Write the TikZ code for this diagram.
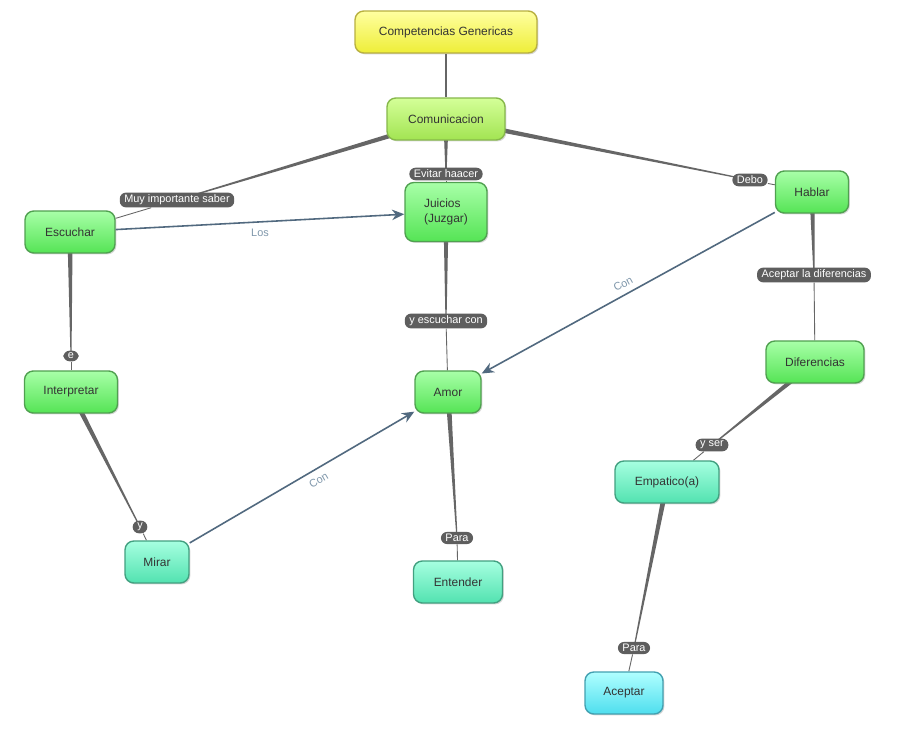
\documentclass[tikz,border=0pt]{standalone}
\usepackage{fontspec}
\setmainfont{Liberation Sans}
\usetikzlibrary{positioning, calc}
\usetikzlibrary{arrows.meta, backgrounds, shadows}
\definecolor{linkgray}{HTML}{666666}
\definecolor{labelgray}{HTML}{5E5E5E}
\definecolor{arrowblue}{HTML}{51697F}
\definecolor{arrowtext}{HTML}{7F97AB}
\definecolor{yelTop}{HTML}{FFFFA0}\definecolor{yelBot}{HTML}{EEEE38}\definecolor{yelLine}{HTML}{B8B040}
\definecolor{limTop}{HTML}{D4FF98}\definecolor{limBot}{HTML}{A2E452}\definecolor{limLine}{HTML}{86B84A}
\definecolor{grnTop}{HTML}{A8FFA8}\definecolor{grnBot}{HTML}{55E455}\definecolor{grnLine}{HTML}{50A050}
\definecolor{tealTop}{HTML}{A6FFE0}\definecolor{tealBot}{HTML}{52E2B0}\definecolor{tealLine}{HTML}{42A080}
\definecolor{cyTop}{HTML}{B0FFFF}\definecolor{cyBot}{HTML}{4EDEEE}\definecolor{cyLine}{HTML}{42A0B0}

% tapered link: thick at the concept, thin at the label
\newcommand{\fatlink}[2]{%
  \fill[linkgray] let \p1=($(#2)-(#1)$), \n1={atan2(\y1,\x1)} in
    ($(#1)+(\n1+90:1.5pt)$) -- ($(#2)+(\n1+90:0.3pt)$) --
    ($(#2)+(\n1-90:0.3pt)$) -- ($(#1)+(\n1-90:1.5pt)$) -- cycle;}

\begin{document}
\begin{tikzpicture}[
  x=0.02cm, y=-0.02cm,
  concept/.style={rounded corners=5pt, line width=0.8pt, minimum height=0.84cm,
    font=\fontsize{6.8}{8.2}\selectfont, text=black!80,
    drop shadow={shadow xshift=0.8pt, shadow yshift=-0.8pt, opacity=.3}},
  yellowc/.style={concept, draw=yelLine, top color=yelTop, bottom color=yelBot},
  limec/.style={concept, draw=limLine, top color=limTop, bottom color=limBot},
  greenc/.style={concept, draw=grnLine, top color=grnTop, bottom color=grnBot},
  tealc/.style={concept, draw=tealLine, top color=tealTop, bottom color=tealBot},
  cyanc/.style={concept, draw=cyLine, top color=cyTop, bottom color=cyBot},
  linklabel/.style={fill=labelgray, text=white, rounded corners=3.5pt,
    inner xsep=2.6pt, inner ysep=1.3pt, font=\fontsize{6.2}{7.2}\selectfont},
  thinlink/.style={draw=linkgray, line width=0.5pt},
  arrowlink/.style={draw=arrowblue, line width=0.9pt, -{Stealth[length=7pt, width=6pt]}},
  arrowlabel/.style={text=arrowtext, font=\fontsize{6.2}{7.2}\selectfont}
]
  % conceptos
  \node[yellowc, minimum width=3.64cm] (compet) at (446,32) {Competencias Genericas};
  \node[limec, minimum width=2.36cm] (comunic) at (446,119) {Comunicacion};
  \node[greenc, minimum width=1.64cm, minimum height=1.18cm, align=left] (juicios) at (446,212) {Juicios\\(Juzgar)};
  \node[greenc, minimum width=1.8cm] (escuchar) at (70,232) {Escuchar};
  \node[greenc, minimum width=1.46cm] (hablar) at (812,192) {Hablar};
  \node[greenc, minimum width=1.86cm] (interp) at (71,392) {Interpretar};
  \node[greenc, minimum width=1.32cm] (amor) at (448,392) {Amor};
  \node[greenc, minimum width=1.96cm] (difer) at (815,362) {Diferencias};
  \node[tealc, minimum width=2.08cm] (empat) at (667,482) {Empatico(a)};
  \node[tealc, minimum width=1.28cm] (mirar) at (157,562) {Mirar};
  \node[tealc, minimum width=1.78cm] (entender) at (458,582) {Entender};
  \node[cyanc, minimum width=1.56cm] (aceptar) at (624,693) {Aceptar};

  % frases de enlace
  \node[linklabel] (evitar) at (446,174) {Evitar haacer};
  \node[linklabel] (muy) at (177,200) {Muy importante saber};
  \node[linklabel] (debo) at (750,180) {Debo};
  \node[linklabel] (yescuchar) at (446,321) {y escuchar con};
  \node[linklabel] (aceptarla) at (814,275) {Aceptar la diferencias};
  \node[linklabel] (e) at (71,356) {e};
  \node[linklabel] (y) at (140,527) {y};
  \node[linklabel] (para1) at (457,538) {Para};
  \node[linklabel] (yser) at (712,445) {y ser};
  \node[linklabel] (para2) at (634,648) {Para};

  \begin{pgfonlayer}{background}
    \fill[white] (0,0) rectangle (900,740);
    \draw[linkgray, line width=1.6pt] (compet) -- (comunic);
    % --- Comunicacion ---
    \fatlink{comunic}{evitar}   \draw[thinlink] (evitar) -- (juicios);
    \fatlink{comunic}{muy}      \draw[thinlink] (muy) -- (escuchar);
    \fatlink{comunic}{debo}     \draw[thinlink] (debo) -- (hablar);
    % --- resto ---
    \fatlink{juicios}{yescuchar} \draw[thinlink] (yescuchar) -- (amor);
    \fatlink{hablar}{aceptarla}  \draw[thinlink] (aceptarla) -- (difer);
    \fatlink{escuchar}{e}        \draw[thinlink] (e) -- (interp);
    \fatlink{interp}{y}          \draw[thinlink] (y) -- (mirar);
    \fatlink{amor}{para1}        \draw[thinlink] (para1) -- (entender);
    \fatlink{difer}{yser}        \draw[thinlink] (yser) -- (empat);
    \fatlink{empat}{para2}       \draw[thinlink] (para2) -- (aceptar);
  \end{pgfonlayer}

  % flechas
  \draw[arrowlink] (escuchar) -- node[arrowlabel, below, pos=.5] {Los} (juicios);
  \draw[arrowlink] (hablar) -- node[arrowlabel, above, sloped, pos=.5] {Con} (amor);
  \draw[arrowlink] (mirar) -- node[arrowlabel, below, sloped, pos=.55] {Con} (amor);
\end{tikzpicture}
\end{document}
